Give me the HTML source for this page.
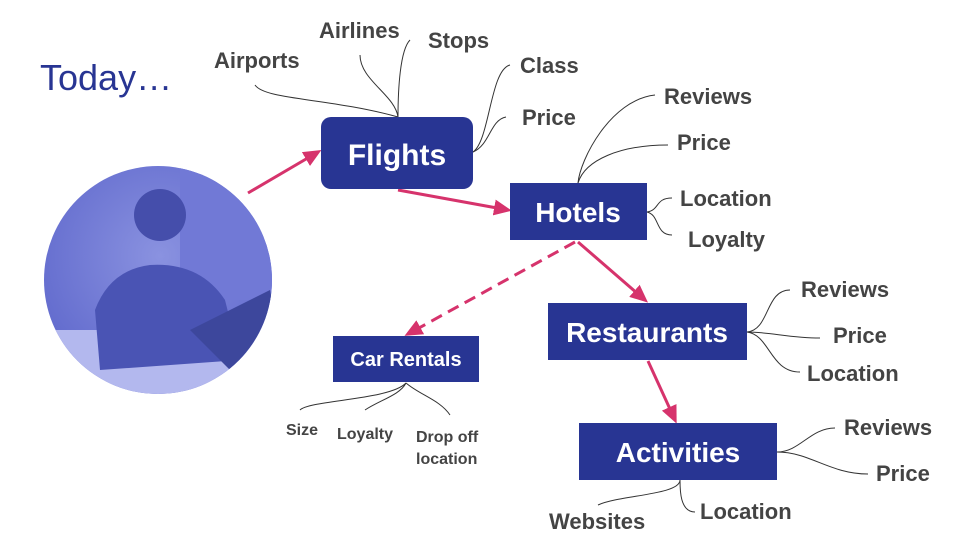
<!DOCTYPE html>
<html><head><meta charset="utf-8"><style>
body{margin:0;background:#fff;}
svg{display:block;font-family:"Liberation Sans",sans-serif;}
.l{font-weight:bold;fill:#444;font-size:22px;}
.s{font-weight:bold;fill:#444;font-size:16px;}
.b{font-weight:bold;fill:#fff;}
.c{fill:none;stroke:#333;stroke-width:1;}
.a{stroke:#d6336c;stroke-width:3;fill:none;}
</style></head><body>
<svg width="960" height="540" viewBox="0 0 960 540">
<defs>
<marker id="ah2" markerWidth="18" markerHeight="18" refX="14" refY="9" orient="auto" markerUnits="userSpaceOnUse"><path d="M0,1 L18,9 L0,17 z" fill="#d6336c"/></marker>
<radialGradient id="pg" cx="0.5" cy="0.4" r="0.6"><stop offset="0" stop-color="#8a92e0"/><stop offset="1" stop-color="#5f68cc"/></radialGradient>
<clipPath id="cc"><circle cx="158" cy="280" r="114"/></clipPath>
</defs>
<text x="40" y="90" font-size="36" fill="#283593">Today…</text>
<g clip-path="url(#cc)">
<rect x="40" y="160" width="240" height="240" fill="url(#pg)"/>
<rect x="180" y="160" width="100" height="140" fill="#7179d6"/>
<rect x="40" y="330" width="240" height="80" fill="#b3b8ee"/>
<path d="M95,310 Q110,270 150,265 Q200,262 225,300 L240,360 L100,370 Z" fill="#4a54b4"/>
<circle cx="160" cy="215" r="26" fill="#454eab"/>
<path d="M190,330 L270,290 L280,340 L230,370 Z" fill="#3d479c"/>
</g>
<g class="c">
<path d="M255,85 C265,100 330,98 398,117"/>
<path d="M360,55 C360,80 395,95 398,117"/>
<path d="M410,40 C400,50 398,90 398,117"/>
<path d="M510,65 C490,70 490,140 473,152"/>
<path d="M506,117 C490,120 490,145 473,152"/>
<path d="M655,95 C610,100 580,160 578,183"/>
<path d="M668,145 C620,145 585,160 578,183"/>
<path d="M672,198 C655,198 660,210 647,212"/>
<path d="M672,235 C655,235 660,215 647,212"/>
<path d="M790,290 C765,290 770,330 747,332"/>
<path d="M820,338 C790,338 770,332 747,332"/>
<path d="M800,372 C770,372 770,335 747,332"/>
<path d="M835,428 C810,428 800,452 777,452"/>
<path d="M868,474 C830,474 810,452 777,452"/>
<path d="M598,505 C620,495 680,495 680,480"/>
<path d="M695,512 C680,512 680,490 680,480"/>
<path d="M300,410 C310,400 390,400 406,383"/>
<path d="M365,410 C380,400 400,395 406,383"/>
<path d="M450,415 C440,400 420,395 406,383"/>
</g>
<line class="a" x1="248" y1="193" x2="318" y2="152" marker-end="url(#ah2)"/>
<line class="a" x1="398" y1="190" x2="508" y2="210" marker-end="url(#ah2)"/>
<line class="a" x1="578" y1="242" x2="645" y2="300" marker-end="url(#ah2)"/>
<line class="a" x1="648" y1="361" x2="675" y2="420" marker-end="url(#ah2)"/>
<line class="a" x1="575" y1="242" x2="408" y2="334" stroke-dasharray="12,7" marker-end="url(#ah2)"/>
<rect x="321" y="117" width="152" height="72" rx="10" fill="#283593"/>
<text class="b" x="397" y="165" font-size="30" text-anchor="middle">Flights</text>
<rect x="510" y="183" width="137" height="57" fill="#283593"/>
<text class="b" x="578" y="222" font-size="28" text-anchor="middle">Hotels</text>
<rect x="548" y="303" width="199" height="57" fill="#283593"/>
<text class="b" x="647" y="342" font-size="28" text-anchor="middle">Restaurants</text>
<rect x="579" y="423" width="198" height="57" fill="#283593"/>
<text class="b" x="678" y="462" font-size="28" text-anchor="middle">Activities</text>
<rect x="333" y="336" width="146" height="46" fill="#283593"/>
<text class="b" x="406" y="366" font-size="20" text-anchor="middle">Car Rentals</text>
<text class="l" x="214" y="68">Airports</text>
<text class="l" x="319" y="38">Airlines</text>
<text class="l" x="428" y="48">Stops</text>
<text class="l" x="520" y="73">Class</text>
<text class="l" x="522" y="125">Price</text>
<text class="l" x="664" y="104">Reviews</text>
<text class="l" x="677" y="150">Price</text>
<text class="l" x="680" y="206">Location</text>
<text class="l" x="688" y="247">Loyalty</text>
<text class="l" x="801" y="297">Reviews</text>
<text class="l" x="833" y="343">Price</text>
<text class="l" x="807" y="381">Location</text>
<text class="l" x="844" y="435">Reviews</text>
<text class="l" x="876" y="481">Price</text>
<text class="l" x="549" y="529">Websites</text>
<text class="l" x="700" y="519">Location</text>
<text class="s" x="286" y="435">Size</text>
<text class="s" x="337" y="439">Loyalty</text>
<text class="s" x="416" y="442">Drop off</text>
<text class="s" x="416" y="464">location</text>
</svg>
</body></html>
